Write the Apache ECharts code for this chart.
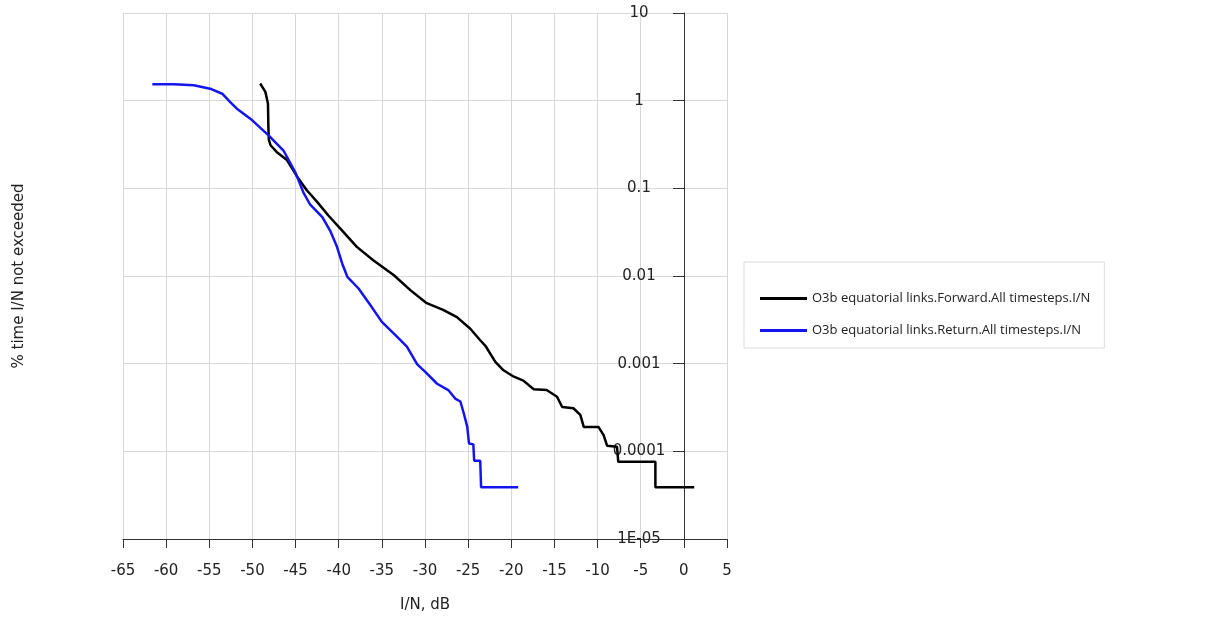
<!DOCTYPE html>
<html>
<head>
<meta charset="utf-8">
<title>I/N</title>
<script src="https://cdn.jsdelivr.net/npm/echarts@6/dist/echarts.min.js"></script>
<style>
html, body { margin: 0; padding: 0; background: #fff; }
#chart { width: 1219px; height: 623px; }
</style>
</head>
<body>
<div id="chart"></div>
<script>
// x ticks and y decade labels
var xTicks = [ -65, -60, -55, -50, -45, -40, -35, -30, -25, -20, -15, -10, -5, 0, 5 ];
var yTickLabels = [ '1E-05', '0.0001', '0.001', '0.01', '0.1', '1', '10' ];

var seriesNames = [ 'O3b equatorial links.Forward.All timesteps.I/N',
		'O3b equatorial links.Return.All timesteps.I/N' ];

// forward link
var forwardX = [ -49.1, -48.5, -48.2, -48.15, -48.1, -47.9, -47.2, -46.0, -44.8, -43.7,
		-42.5, -41.2, -39.6, -37.9, -36.0, -33.6, -31.7, -29.8, -27.9, -26.3,
		-24.75, -23.6, -23.0, -21.85, -20.9, -19.7, -18.6, -17.4, -15.9, -14.7,
		-14.1, -12.8, -12.0, -11.6, -9.9, -9.3, -8.9, -7.75, -7.6, -3.3,
		-3.3, 1.2 ];
var forwardY = [ 1.57, 1.26, 0.93, 0.5, 0.36, 0.31, 0.26, 0.21, 0.135, 0.095,
		0.07, 0.049, 0.033, 0.0215, 0.0151, 0.0102, 0.0069, 0.0049, 0.0041, 0.0034,
		0.0025, 0.00185, 0.0016, 0.00105, 0.00084, 0.00071, 0.00064, 0.00051, 0.0005, 0.00042,
		0.00032, 0.00031, 0.00026, 0.00019, 0.00019, 0.000153, 0.000116, 0.000113, 0.000076, 0.000076,
		0.000039, 0.000039 ];

// return link
var returnX = [ -61.6, -59.1, -56.8, -54.9, -53.5, -52.6, -51.8, -50.05, -48.1, -46.4,
		-45.0, -44.1, -43.3, -41.9, -41.0, -40.2, -39.6, -39.0, -37.7, -36.3,
		-35.0, -33.4, -32.1, -30.9, -30.0, -28.6, -27.3, -26.5, -25.9, -25.5,
		-25.1, -24.9, -24.4, -24.3, -23.6, -23.5, -19.2 ];
var returnY = [ 1.54, 1.54, 1.50, 1.37, 1.2, 0.97, 0.81, 0.6, 0.4, 0.27,
		0.15, 0.09, 0.065, 0.047, 0.033, 0.0215, 0.0139, 0.0098, 0.0072, 0.0046,
		0.0030, 0.0021, 0.00156, 0.00098, 0.00081, 0.00059, 0.0005, 0.0004, 0.00037, 0.00027,
		0.00019, 0.000123, 0.00012, 0.000078, 0.000078, 0.000039, 0.000039 ];

function pairs(xs, ys) {
	var out = [];
	for (var i = 0; i < xs.length; i++) {
		out.push([ xs[i], ys[i] ]);
	}
	return out;
}

function loadLineChart(chartId) {
	var myChart = echarts.init(document.getElementById(chartId));
	var axisFont = 'DejaVu Sans';
	var gridLeft = 123, gridRight = 492;
	var plotW = 1219 - gridLeft - gridRight;
	// y axis sits at x = 0, so shift it right from the grid's left edge
	var zeroShift = Math.round(plotW * (0 - xTicks[0]) / (xTicks[xTicks.length - 1] - xTicks[0]));
	var lineOption = {
		animation : false,
		color : [ '#000000', '#1414f0' ],
		grid : {
			left : gridLeft,
			right : gridRight,
			top : 13,
			bottom : 84,
			containLabel : false,
			outerBoundsMode : 'none'
		},
		legend : {
			orient : 'vertical',
			left : 744,
			top : 262,
			data : seriesNames,
			icon : 'rect',
			itemWidth : 47,
			itemHeight : 3,
			itemGap : 19,
			padding : [ 30, 14, 11, 16 ],
			borderColor : '#dddddd',
			borderWidth : 1,
			textStyle : {
				color : '#222222',
				fontFamily : 'Open Sans',
				fontSize : 13
			}
		},
		xAxis : {
			type : 'value',
			min : xTicks[0],
			max : xTicks[xTicks.length - 1],
			interval : 5,
			name : 'I/N, dB',
			nameLocation : 'middle',
			nameGap : 59,
			nameTextStyle : {
				color : '#222222',
				fontFamily : axisFont,
				fontSize : 15
			},
			axisLine : {
				onZero : false,
				lineStyle : { color : '#333333' }
			},
			axisTick : {
				length : 9,
				lineStyle : { color : '#333333' }
			},
			axisLabel : {
				margin : 25,
				color : '#222222',
				fontFamily : axisFont,
				fontSize : 15
			},
			splitLine : {
				lineStyle : { color : '#d8d8d8' }
			}
		},
		yAxis : {
			type : 'log',
			logBase : 10,
			min : 1e-5,
			max : 10,
			offset : -zeroShift,
			name : '% time I/N not exceeded',
			nameLocation : 'middle',
			nameGap : 657,
			nameTextStyle : {
				color : '#222222',
				fontFamily : axisFont,
				fontSize : 15
			},
			axisLine : {
				onZero : false,
				lineStyle : { color : '#333333' }
			},
			axisTick : {
				length : 11,
				lineStyle : { color : '#333333' }
			},
			axisLabel : {
				align : 'center',
				margin : 45,
				color : '#222222',
				fontFamily : axisFont,
				fontSize : 15,
				formatter : function(v) {
					var k = Math.round(Math.log(v) / Math.LN10) + 5;
					return yTickLabels[k];
				}
			},
			splitLine : {
				lineStyle : { color : '#d8d8d8' }
			}
		},
		series : [ {
			name : seriesNames[0],
			type : 'line',
			symbol : 'none',
			lineStyle : { width : 2.5 },
			data : pairs(forwardX, forwardY)
		}, {
			name : seriesNames[1],
			type : 'line',
			symbol : 'none',
			lineStyle : { width : 2.5 },
			data : pairs(returnX, returnY)
		} ]
	};
	myChart.setOption(lineOption);
}

loadLineChart('chart');
</script>
</body>
</html>
